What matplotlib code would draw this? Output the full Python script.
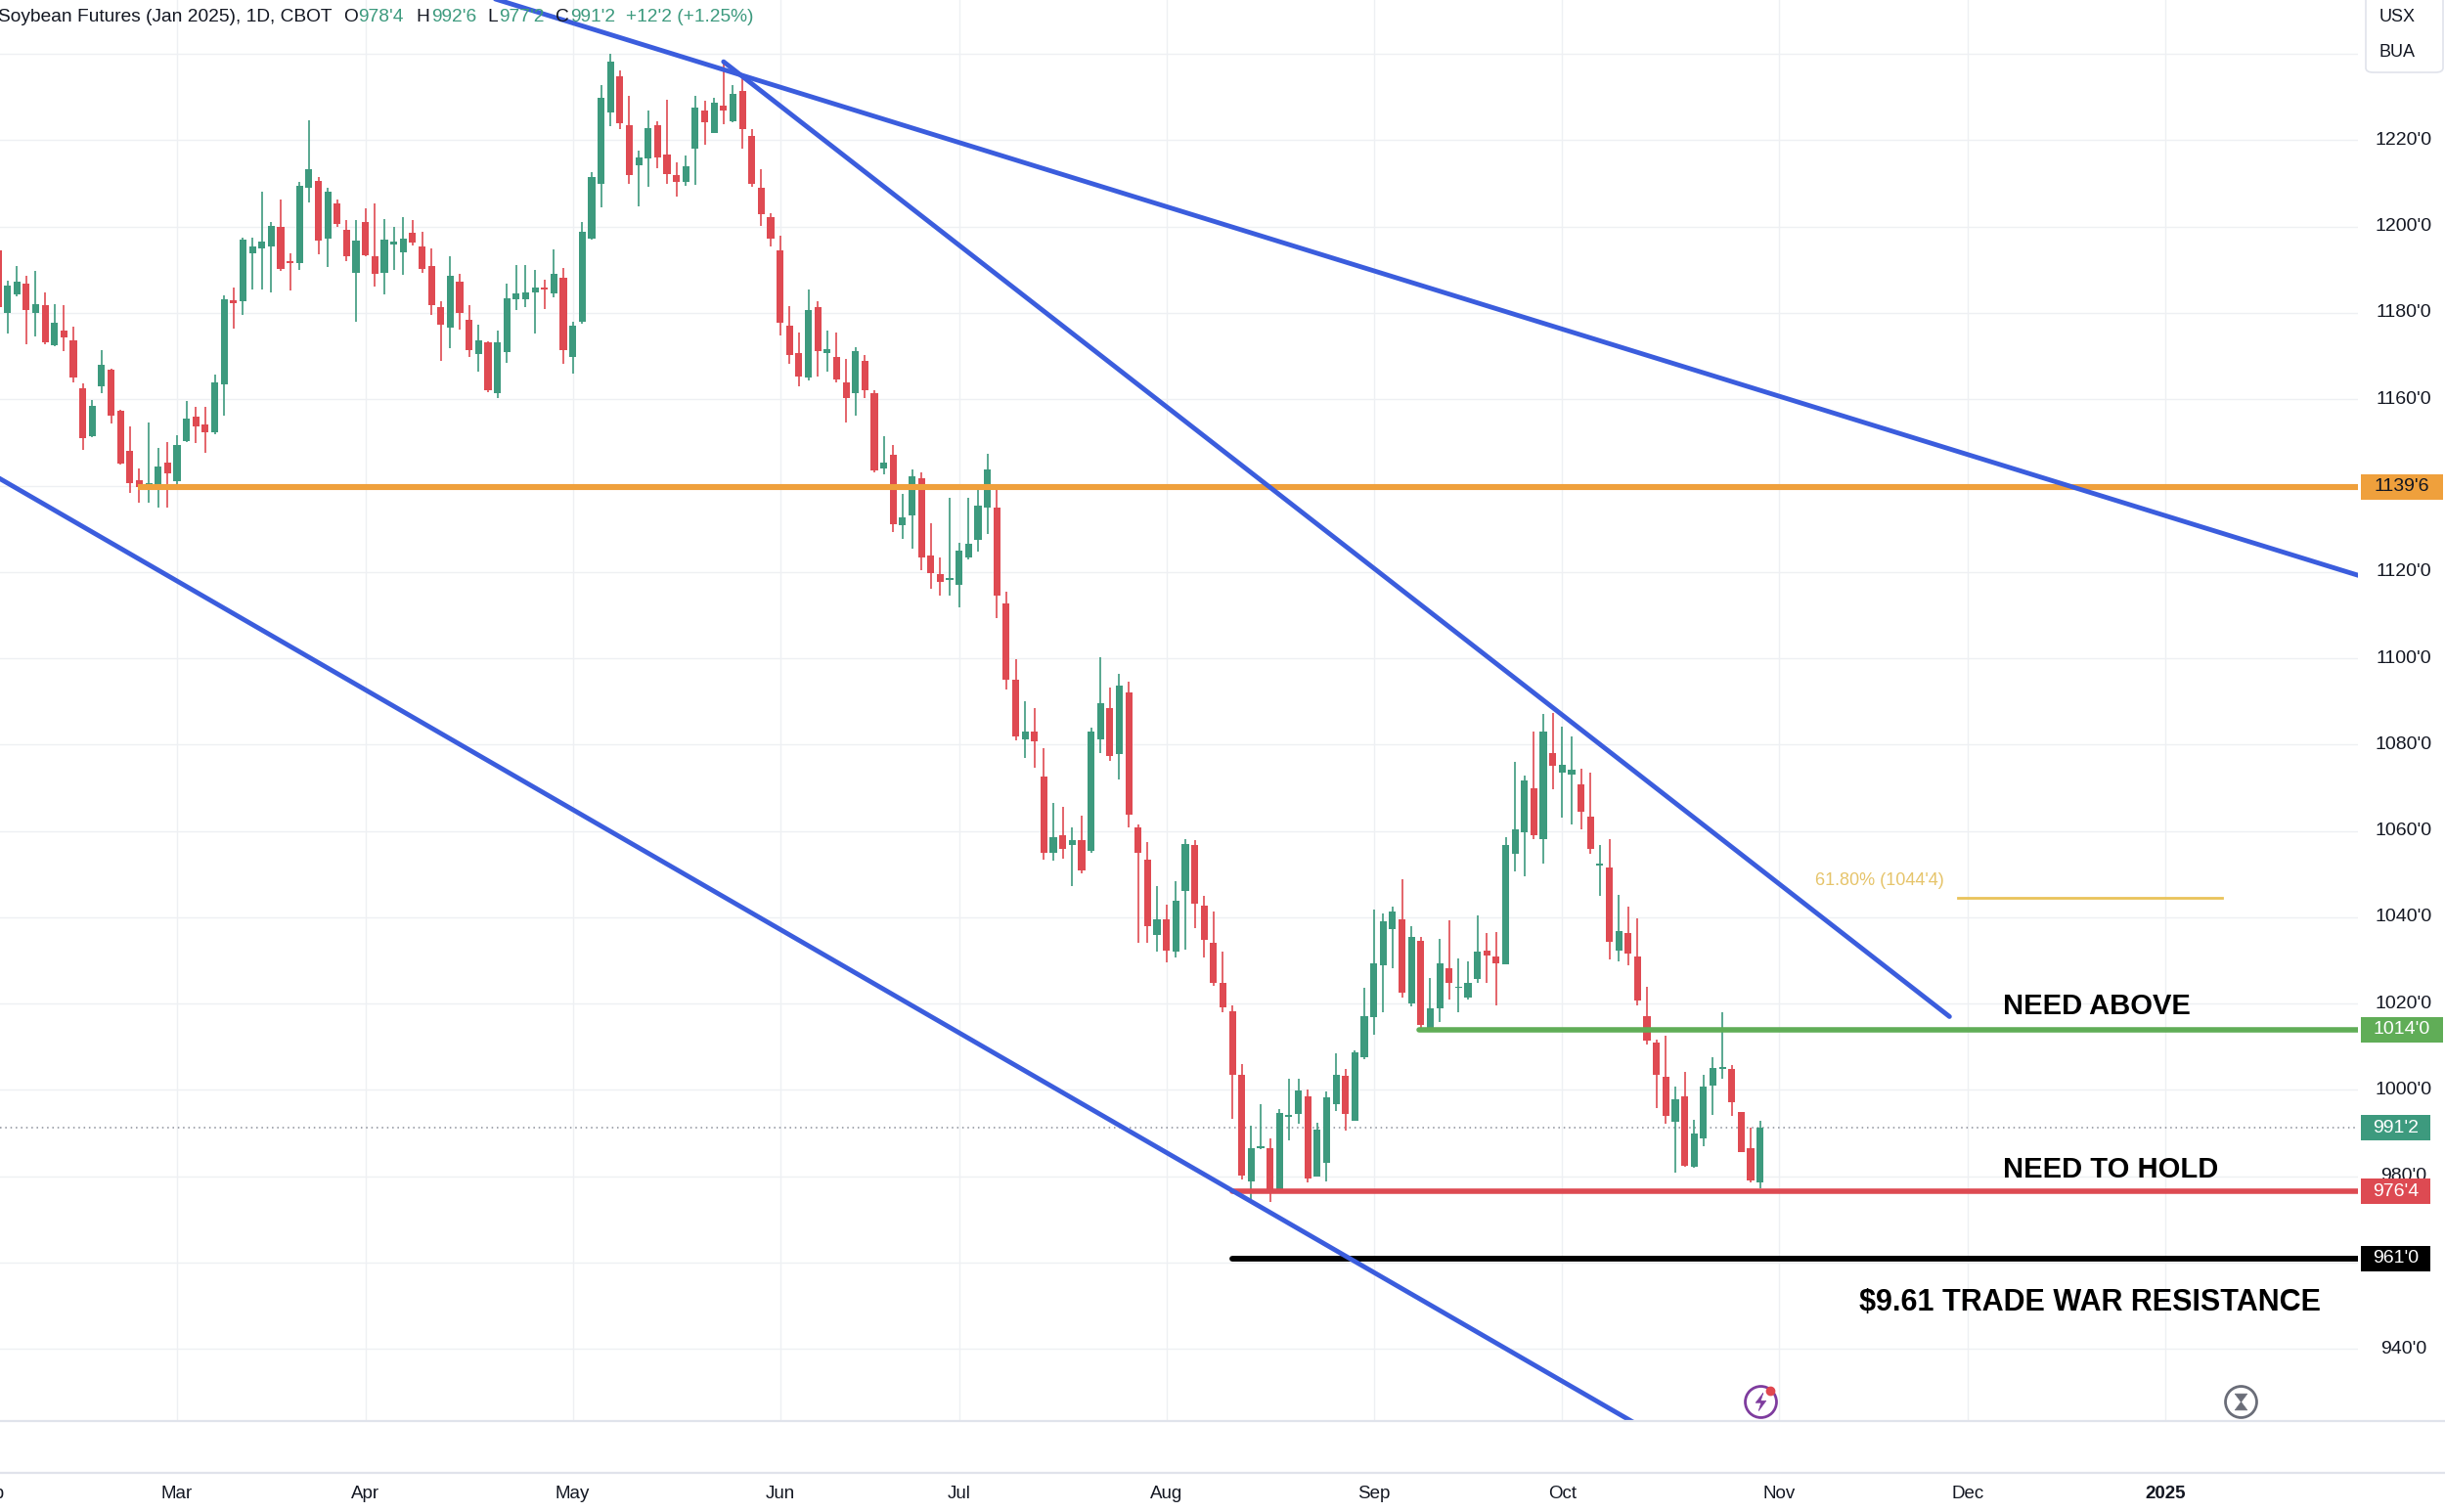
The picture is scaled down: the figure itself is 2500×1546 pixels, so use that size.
import numpy as np
import pandas as pd
import matplotlib
matplotlib.use("Agg")
import matplotlib.pyplot as plt
from matplotlib.transforms import blended_transform_factory, ScaledTranslation
from matplotlib.lines import Line2D
from matplotlib.patches import FancyBboxPatch, Rectangle

plt.rcParams['font.family'] = ['Liberation Sans', 'DejaVu Sans']

# trading calendar (CBOT holidays), position 0 = Feb 1 2024
HOLIDAYS = ["2024-02-19", "2024-03-29", "2024-05-27", "2024-06-19", "2024-07-04",
            "2024-09-02", "2024-11-28", "2024-12-25", "2025-01-01"]
cal = pd.bdate_range("2024-02-01", "2025-01-31", freq="C", holidays=HOLIDAYS)

# daily candles Feb 2 .. Oct 30 2024, cents/bu
opens = [1194.6, 1180.1, 1184.2, 1186.8, 1180.1, 1181.9, 1172.5, 1175.9, 1173.7, 1162.5,
         1151.4, 1162.9, 1166.8, 1157.4, 1148.0, 1141.2, 1139.1, 1140.2, 1145.4, 1141.0,
         1150.3, 1155.9, 1154.2, 1152.3, 1163.4, 1182.9, 1182.7, 1193.8, 1194.9, 1195.5,
         1200.0, 1191.8, 1191.5, 1209.1, 1210.6, 1197.2, 1205.4, 1199.2, 1189.3, 1201.0,
         1193.1, 1189.3, 1195.9, 1194.0, 1198.5, 1195.5, 1190.8, 1181.4, 1176.6, 1187.3,
         1178.3, 1170.4, 1173.2, 1161.4, 1171.0, 1183.1, 1183.1, 1184.8, 1185.9, 1184.5,
         1188.2, 1169.9, 1178.0, 1197.2, 1209.9, 1226.4, 1234.9, 1223.5, 1214.2, 1215.9,
         1223.5, 1216.6, 1211.9, 1210.3, 1218.0, 1226.9, 1221.7, 1228.1, 1224.5, 1231.5,
         1221.1, 1209.1, 1202.1, 1194.6, 1177.0, 1170.8, 1165.0, 1181.4, 1170.8, 1169.9,
         1164.0, 1161.5, 1168.9, 1161.5, 1144.0, 1147.2, 1130.8, 1133.2, 1141.7, 1123.9,
         1119.4, 1118.2, 1117.1, 1123.4, 1127.4, 1134.8, 1135.0, 1112.8, 1095.0, 1081.2,
         1083.0, 1072.7, 1054.9, 1058.9, 1056.7, 1057.9, 1055.3, 1081.2, 1088.5, 1077.8,
         1092.0, 1060.8, 1053.4, 1036.0, 1039.5, 1032.1, 1046.0, 1056.8, 1042.6, 1034.0,
         1024.9, 1018.3, 1003.5, 978.9, 986.4, 986.6, 976.2, 993.8, 994.5, 998.6,
         980.0, 983.2, 996.6, 1003.2, 992.8, 1007.5, 1016.8, 1028.9, 1037.2, 1039.5,
         1020.0, 1034.6, 1014.3, 1019.0, 1028.2, 1023.6, 1021.5, 1025.7, 1032.3, 1030.9,
         1029.2, 1054.6, 1059.7, 1070.0, 1058.1, 1078.0, 1073.4, 1073.0, 1070.8, 1063.4,
         1052.0, 1051.5, 1032.3, 1036.3, 1030.9, 1017.1, 1010.9, 1003.0, 992.7, 998.5,
         982.3, 988.8, 1000.9, 1004.9, 1004.8, 995.0, 986.6, 978.5]
highs = [1196.5, 1187.4, 1190.8, 1188.5, 1189.7, 1184.8, 1182.1, 1181.7, 1176.8, 1163.6,
         1159.9, 1171.3, 1167.0, 1157.6, 1153.8, 1144.0, 1154.6, 1148.7, 1150.0, 1151.7,
         1159.5, 1158.2, 1158.2, 1165.7, 1184.0, 1185.9, 1197.4, 1197.4, 1208.2, 1201.0,
         1206.3, 1193.8, 1210.3, 1224.6, 1211.5, 1209.1, 1206.3, 1201.5, 1201.5, 1204.2,
         1205.3, 1201.7, 1199.9, 1202.3, 1201.6, 1198.9, 1194.9, 1182.7, 1193.1, 1189.1,
         1181.7, 1177.2, 1173.4, 1175.9, 1186.8, 1191.2, 1191.2, 1190.0, 1187.8, 1194.7,
         1190.4, 1178.0, 1201.1, 1212.7, 1232.8, 1240.0, 1236.1, 1230.4, 1217.6, 1227.0,
         1224.4, 1229.4, 1214.9, 1216.5, 1230.4, 1229.1, 1229.9, 1238.7, 1232.8, 1235.5,
         1222.5, 1213.4, 1203.0, 1197.8, 1181.6, 1175.4, 1185.4, 1182.8, 1175.9, 1175.4,
         1169.4, 1172.0, 1170.3, 1162.0, 1151.4, 1149.5, 1138.0, 1143.7, 1143.1, 1131.4,
         1123.4, 1137.1, 1126.7, 1137.1, 1140.0, 1147.4, 1139.4, 1115.5, 1099.8, 1090.1,
         1088.5, 1079.2, 1066.4, 1065.5, 1060.9, 1063.6, 1083.9, 1100.3, 1093.2, 1096.4,
         1094.6, 1061.5, 1057.4, 1047.2, 1043.0, 1048.3, 1058.1, 1057.9, 1044.9, 1041.3,
         1032.1, 1019.5, 1006.0, 991.7, 996.6, 988.7, 995.6, 1002.6, 1002.6, 1000.0,
         992.5, 999.6, 1008.5, 1004.8, 1009.2, 1023.6, 1041.9, 1040.8, 1042.4, 1048.8,
         1037.9, 1035.5, 1026.0, 1035.1, 1039.2, 1030.4, 1029.8, 1040.4, 1036.4, 1036.6,
         1058.5, 1075.9, 1072.8, 1083.1, 1087.0, 1087.4, 1084.1, 1082.0, 1074.4, 1073.6,
         1056.7, 1058.0, 1045.2, 1042.5, 1039.8, 1024.0, 1011.6, 1012.6, 1000.7, 1004.2,
         993.1, 1003.6, 1007.5, 1017.9, 1005.8, 995.0, 991.3, 992.75]
lows = [1180.0, 1175.3, 1183.9, 1172.8, 1174.6, 1172.8, 1172.3, 1171.2, 1164.0, 1148.2,
        1151.2, 1161.5, 1154.3, 1144.8, 1138.3, 1136.1, 1136.1, 1134.9, 1134.9, 1139.5,
        1150.0, 1149.9, 1147.5, 1151.9, 1156.2, 1176.3, 1179.5, 1185.5, 1185.5, 1184.8,
        1189.7, 1185.1, 1189.9, 1205.5, 1193.7, 1190.6, 1199.9, 1191.9, 1178.0, 1193.1,
        1186.1, 1184.4, 1190.0, 1188.9, 1195.7, 1189.4, 1179.5, 1168.9, 1171.9, 1176.1,
        1169.7, 1166.3, 1161.6, 1160.2, 1168.5, 1180.6, 1181.4, 1175.3, 1181.0, 1183.6,
        1168.2, 1166.0, 1177.6, 1197.0, 1204.4, 1223.2, 1222.6, 1210.0, 1204.8, 1209.3,
        1213.6, 1210.0, 1207.0, 1209.5, 1209.7, 1218.9, 1221.7, 1223.8, 1224.2, 1218.0,
        1209.3, 1200.2, 1195.3, 1174.9, 1168.3, 1162.9, 1164.3, 1165.2, 1166.4, 1164.0,
        1154.6, 1156.3, 1160.2, 1143.1, 1142.6, 1129.2, 1127.7, 1125.3, 1120.3, 1116.1,
        1114.5, 1114.5, 1111.7, 1123.0, 1124.8, 1128.8, 1109.4, 1092.8, 1081.0, 1077.0,
        1074.7, 1053.3, 1053.1, 1053.5, 1047.2, 1050.2, 1055.0, 1078.0, 1076.3, 1072.0,
        1060.9, 1034.0, 1034.2, 1032.1, 1029.6, 1030.7, 1032.5, 1037.5, 1030.7, 1024.2,
        1018.1, 993.4, 979.2, 974.0, 986.2, 974.0, 976.0, 988.3, 992.2, 978.6,
        980.0, 978.9, 995.1, 990.6, 992.8, 1007.2, 1012.8, 1018.1, 1028.3, 1021.5,
        1019.4, 1014.0, 1014.0, 1015.8, 1020.9, 1018.1, 1020.9, 1024.9, 1024.9, 1019.5,
        1029.2, 1050.7, 1049.4, 1058.0, 1052.5, 1069.7, 1063.0, 1061.4, 1060.3, 1054.8,
        1045.0, 1030.2, 1029.8, 1028.8, 1019.7, 1010.6, 995.8, 992.1, 980.8, 982.2,
        982.0, 986.9, 994.2, 1002.5, 994.1, 985.5, 978.6, 977.25]
closes = [1181.4, 1186.4, 1187.2, 1180.6, 1182.1, 1173.1, 1177.8, 1174.4, 1165.1, 1151.0,
          1158.5, 1168.0, 1156.1, 1145.1, 1140.6, 1139.7, 1140.6, 1144.4, 1142.9, 1149.3,
          1155.5, 1153.8, 1152.3, 1163.9, 1183.2, 1182.3, 1197.1, 1195.5, 1196.5, 1200.1,
          1190.3, 1191.6, 1209.4, 1213.3, 1196.7, 1208.2, 1200.6, 1193.1, 1196.7, 1193.4,
          1189.1, 1197.0, 1196.6, 1197.2, 1196.2, 1190.3, 1181.7, 1177.2, 1188.5, 1180.1,
          1171.3, 1173.7, 1162.0, 1173.2, 1183.4, 1184.5, 1184.8, 1185.9, 1185.5, 1189.1,
          1171.3, 1177.1, 1198.9, 1211.5, 1229.8, 1238.3, 1224.0, 1211.9, 1216.1, 1222.8,
          1216.1, 1212.2, 1210.3, 1214.0, 1227.6, 1224.2, 1228.8, 1226.9, 1230.8, 1222.5,
          1209.8, 1202.9, 1197.2, 1177.7, 1170.3, 1165.2, 1180.7, 1171.2, 1171.7, 1164.6,
          1160.2, 1171.1, 1162.0, 1143.5, 1145.4, 1131.1, 1132.7, 1142.2, 1123.4, 1119.8,
          1117.7, 1118.3, 1124.9, 1126.5, 1135.4, 1143.7, 1114.5, 1095.0, 1081.8, 1083.0,
          1080.8, 1054.9, 1058.6, 1055.9, 1057.9, 1050.9, 1083.0, 1089.5, 1077.4, 1093.6,
          1063.8, 1054.9, 1037.9, 1039.5, 1032.2, 1043.9, 1057.0, 1043.2, 1034.7, 1024.8,
          1019.1, 1003.5, 980.2, 986.4, 986.9, 976.6, 994.6, 994.3, 999.8, 979.4,
          990.9, 998.3, 1003.5, 994.5, 1008.8, 1017.0, 1029.4, 1039.1, 1041.4, 1022.5,
          1035.5, 1015.1, 1018.9, 1029.4, 1024.8, 1023.7, 1024.8, 1032.0, 1031.2, 1029.4,
          1056.7, 1060.3, 1071.6, 1059.1, 1083.1, 1075.2, 1075.3, 1074.1, 1064.4, 1055.8,
          1052.1, 1034.3, 1036.8, 1031.6, 1020.8, 1011.4, 1003.4, 993.9, 997.8, 982.5,
          989.8, 1000.7, 1005.0, 1005.0, 997.2, 985.6, 979.0, 991.25]

# drawn levels
ORANGE_LVL = 1139.75
GREEN_LVL = 1014.0
RED_LVL = 976.5
BLACK_LVL = 961.0
FIB_LVL = 1044.5
# trend lines: two anchor points (position, price) and the span to draw
trend_lines = [((59.3, 1249.0), (251.5, 1119.2), 40, 251.5),
               ((78.0, 1238.2), (208.1, 1017.0), 78.0, 208.1),
               ((1.21, 1141.6), (136.1, 971.5), 0, 185)]
price_ticks = list(range(940, 1241, 20))
hidden_ticks = [960, 1140, 1240]   # covered by tags / unit box on the chart

GREEN = '#3d9a7e'
RED = '#df4a52'
BLUE = '#3b5ddd'
TXT = '#131722'
GRID = '#eef0f3'


def fmt(v):
    whole = int(np.floor(v + 1e-9))
    return f"{whole}'{int(round((v - whole) * 8))}"


fig = plt.figure(figsize=(25, 15.46), dpi=100)
ax = fig.add_axes([0, 93 / 1546, 2411 / 2500, 1453 / 1546])
for s in ax.spines.values():
    s.set_visible(False)

month_pos, month_lab = [], []
prev = None
for i, d in enumerate(cal):
    if d.month != prev:
        month_pos.append(i)
        month_lab.append(str(d.year) if d.month == 1 else d.strftime("%b"))
        prev = d.month

ax.set_xticks(month_pos)
ax.set_yticks(price_ticks)
ax.set_xlim(1.214, 251.45)
ax.set_ylim(923.3, 1252.5)
ax.tick_params(length=0, labelbottom=False, labelleft=False)
ax.grid(True, color=GRID, lw=1.0)
ax.set_axisbelow(True)

# candles
o, h, l, c = map(np.array, (opens, highs, lows, closes))
x = np.arange(1, len(o) + 1)
col = np.where(c >= o, GREEN, RED)
ax.vlines(x, l, h, colors=col, lw=1.2, zorder=2)
ax.bar(x, np.maximum(np.abs(c - o), 0.35), bottom=np.minimum(o, c), width=0.74,
       color=col, lw=0, zorder=3)

# horizontal levels
ax.plot([15.8, 260], [ORANGE_LVL] * 2, color='#efa03c', lw=4.4, zorder=4, solid_capstyle='butt')
ax.plot([151.8, 260], [GREEN_LVL] * 2, color='#60ad57', lw=4.0, zorder=4, solid_capstyle='round')
ax.plot([132, 260], [RED_LVL] * 2, color='#dd4a52', lw=4.0, zorder=4, solid_capstyle='round')
ax.plot([132, 260], [BLACK_LVL] * 2, color='black', lw=4.2, zorder=4, solid_capstyle='round')
ax.plot([209.0, 237.0], [FIB_LVL] * 2, color='#e9c35a', lw=2.0, zorder=4)
ax.text(207.5, FIB_LVL + 4, f"61.80% ({fmt(FIB_LVL)})", color='#e6c46a', fontsize=13,
        ha='right', va='center', zorder=5)
ax.axhline(c[-1], color='#8a8e99', lw=1.1, ls=(0, (1, 2.5)), zorder=1)

# trend lines
for (p1, y1), (p2, y2), a, b in trend_lines:
    k = (y2 - y1) / (p2 - p1)
    ax.plot([a, b], [y1 + k * (a - p1), y1 + k * (b - p1)], color=BLUE, lw=3.5,
            zorder=5, solid_capstyle='round')

# annotations
ax.text(213.8, 1019.3, "NEED ABOVE", fontsize=21, fontweight='bold', color='black',
        ha='left', va='center', zorder=6)
ax.text(213.8, 981.6, "NEED TO HOLD", fontsize=21, fontweight='bold', color='black',
        ha='left', va='center', zorder=6)
ax.text(198.5, 950.75, "$9.61 TRADE WAR RESISTANCE", fontsize=22, fontweight='bold',
        color='black', ha='left', va='center', zorder=6)

# icons near the time axis
ax.plot([188], [927.8], marker='o', ms=23, mfc='white', mec='#7e3c9e', mew=2.0,
        zorder=6, clip_on=False)
bolt = [(0.15, 0.6), (-0.35, -0.05), (0.02, -0.05), (-0.15, -0.6), (0.35, 0.08), (-0.02, 0.08), (0.15, 0.6)]
ax.plot([188], [927.8], marker=bolt, ms=13, mfc='#7e3c9e', mec='#7e3c9e', mew=0.5, zorder=7)
ax.plot([188], [927.8], marker='o', ms=6, color='#e0474f', zorder=8,
        transform=ax.transData + ScaledTranslation(7.5 / 72, 8 / 72, fig.dpi_scale_trans))
ax.plot([239], [927.8], marker='o', ms=23, mfc='white', mec='#6a6d78', mew=2.0, zorder=6)
hourglass = [(-0.45, 0.6), (0.45, 0.6), (0.0, 0.0), (0.45, -0.6), (-0.45, -0.6), (0.0, 0.0), (-0.45, 0.6)]
ax.plot([239], [927.8], marker=hourglass, ms=12, mfc='#6a6d78', mec='#6a6d78', mew=0.5, zorder=7)

# price scale on the right
tr = blended_transform_factory(ax.transAxes, ax.transData)
for v in price_ticks:
    if v in hidden_ticks:
        continue
    ax.text(2458 / 2411, v, f"{v}'0", transform=tr, ha='center', va='center',
            fontsize=14, color=TXT, clip_on=False, zorder=6)
tags = [(ORANGE_LVL, '#efa03c', TXT), (GREEN_LVL, '#60ad57', 'white'), (c[-1], GREEN, 'white'),
        (RED_LVL, '#dd4a52', 'white'), (BLACK_LVL, 'black', 'white')]
half_h = 13 / (1453 / (1252.5 - 923.3))
for v, bg, fg in tags:
    lab = fmt(v)
    w = 84 if len(lab) >= 6 else 71
    ax.add_patch(Rectangle((2414 / 2411, v - half_h), w / 2411, 2 * half_h, transform=tr,
                           fc=bg, ec='none', clip_on=False, zorder=8))
    ax.text((2414 + w / 2) / 2411, v, lab, transform=tr, ha='center', va='center',
            fontsize=14, color=fg, clip_on=False, zorder=9)

# time axis
trx = blended_transform_factory(ax.transData, ax.transAxes)
for p, lab in zip(month_pos, month_lab):
    ax.text(p, -75 / 1453, lab, transform=trx, ha='center', va='center', fontsize=13.5,
            color=TXT, fontweight='bold' if lab.isdigit() else 'normal', clip_on=False)

for yy in (93 / 1546, 40 / 1546):
    fig.add_artist(Line2D([0, 1], [yy, yy], transform=fig.transFigure, color='#e0e3eb', lw=1.6))

# currency / unit box
fig.add_artist(FancyBboxPatch((2419 / 2500, 1 - 74 / 1546), 79 / 2500, 84 / 1546,
                              boxstyle='round,pad=0,rounding_size=0.003', transform=fig.transFigure,
                              fc='white', ec='#e0e3eb', lw=1.2, zorder=10))
fig.text(2433 / 2500, 1 - 17 / 1546, "USX", fontsize=13, color=TXT, va='center', zorder=11)
fig.text(2433 / 2500, 1 - 54 / 1546, "BUA", fontsize=13, color=TXT, va='center', zorder=11)

# header line
chg = c[-1] - c[-2]
sign = '+' if chg >= 0 else '-'
parts = [("Soybean Futures (Jan 2025), 1D, CBOT", TXT, 11),
         ("O", TXT, 1), (fmt(o[-1]), GREEN, 13),
         ("H", TXT, 1), (fmt(h[-1]), GREEN, 12),
         ("L", TXT, 1), (fmt(l[-1]), GREEN, 11),
         ("C", TXT, 1), (fmt(c[-1]), GREEN, 11),
         (f"{sign}{fmt(abs(chg))} ({sign}{abs(chg) / c[-2] * 100:.2f}%)", GREEN, 0)]
renderer = fig.canvas.get_renderer()
xpos = -2
for s, colr, gap in parts:
    t = fig.text(xpos / 2500, 1 - 17 / 1546, s, color=colr, fontsize=13.8, va='center',
                 ha='left', zorder=11)
    xpos += t.get_window_extent(renderer).width + gap

fig.savefig("out.png", dpi=100, facecolor='white')
